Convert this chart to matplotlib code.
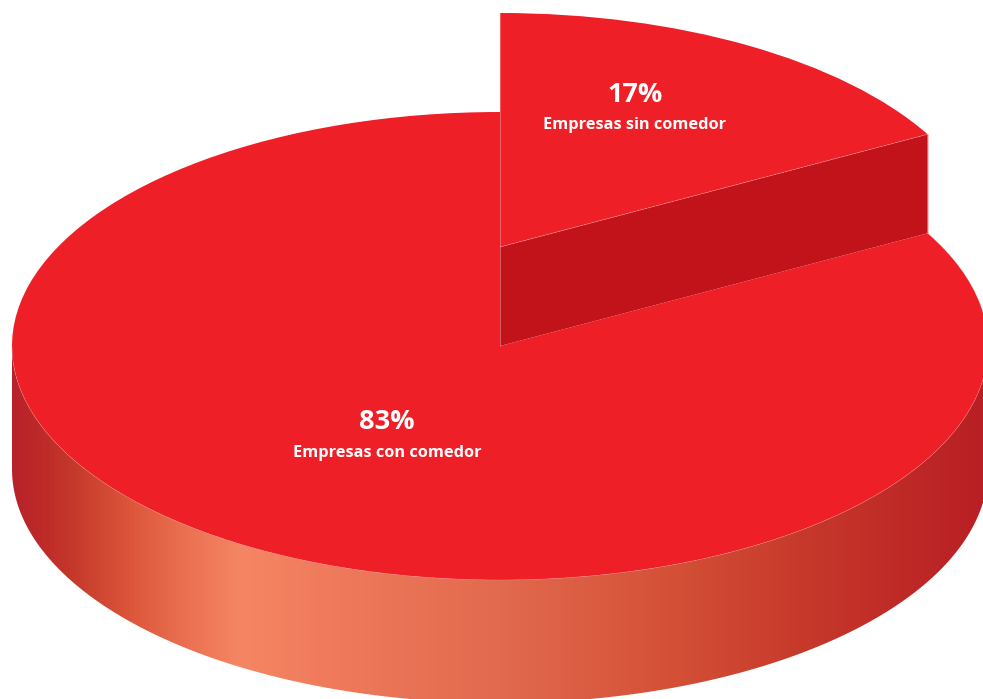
import numpy as np
import matplotlib
matplotlib.use("Agg")
import matplotlib.pyplot as plt
from matplotlib.colors import LinearSegmentedColormap
from matplotlib.patches import Polygon, Wedge

# Survey shares
categories = ["Empresas sin comedor", "Empresas con comedor"]
shares = [17, 83]

WIDTH, HEIGHT = 983, 699
CX, CY = 500, 346      # pie centre, pixels
RX, RY = 488, 234      # ellipse radii, pixels
DEPTH = 123 / RY       # thickness of the disc, in radii
LIFT = 99 / RY         # upward offset of the small slice, in radii

TOP = "#EE1F27"
CUT = "#C2131A"
RIM = "#F5A0A0"
WALL_STOPS = [
    (12, "#B8232A"), (40, "#BE2A28"), (75, "#C63A2C"), (125, "#DB5439"),
    (180, "#E96E50"), (240, "#F58663"), (330, "#EF7A5C"), (500, "#E26A4E"),
    (680, "#D34F36"), (800, "#C73A2B"), (900, "#BF2A27"), (988, "#B81F24"),
]

fig = plt.figure(figsize=(WIDTH / 100, HEIGHT / 100), dpi=100, facecolor="white")
ax = fig.add_axes([0, 0, 1, 1])

# Data units are pie radii, so the unit circle projects to the ellipse.
xlim = (-CX / RX, (WIDTH - CX) / RX)
ylim = ((CY - HEIGHT) / RY, CY / RY)

split = 90 - 360 * shares[0] / sum(shares)   # boundary angle between the two slices
sx, sy = np.cos(np.radians(split)), np.sin(np.radians(split))

# Front wall of the disc, shaded with a horizontal gradient
t = np.radians(np.linspace(180, 360, 400))
wall_xy = np.vstack([
    np.column_stack([np.cos(t), np.sin(t)]),
    np.column_stack([np.cos(t[::-1]), np.sin(t[::-1]) - DEPTH]),
])
wall = Polygon(wall_xy, closed=True, fc="none", ec="none")
ax.add_patch(wall)
stop_x = [(x - WALL_STOPS[0][0]) / (WALL_STOPS[-1][0] - WALL_STOPS[0][0]) for x, _ in WALL_STOPS]
cmap = LinearSegmentedColormap.from_list("wall", list(zip(stop_x, [c for _, c in WALL_STOPS])))
img = ax.imshow(
    np.linspace(0, 1, 1024)[None, :], cmap=cmap, aspect="auto", interpolation="bilinear",
    extent=[(WALL_STOPS[0][0] - CX) / RX, (WALL_STOPS[-1][0] - CX) / RX, -1 - DEPTH, 0.2],
)
img.set_clip_path(wall)

# Large slice
ax.add_patch(Wedge((0, 0), 1, 90, split + 360, fc=TOP, ec="none"))
t = np.radians(np.linspace(180, 360 + split, 400))
ax.plot(np.cos(t), np.sin(t), color=RIM, lw=0.4, alpha=0.45)

# Cut face exposed under the raised slice
ax.add_patch(Polygon([(0, 0), (0, LIFT), (sx, sy + LIFT), (sx, sy)], closed=True, fc=CUT, ec="none"))

# Raised small slice
ax.add_patch(Wedge((0, LIFT), 1, split, 90, fc=TOP, ec="none"))
ax.plot([0, sx], [LIFT, sy + LIFT], color=RIM, lw=0.5, alpha=0.7, ls=(0, (3, 1)))
ax.plot([0, 0], [0, 1 + LIFT], color=RIM, lw=0.6, alpha=0.6)
ax.plot([sx, sx], [sy, sy + LIFT], color=RIM, lw=0.6, alpha=0.7)

ax.set_xlim(*xlim)
ax.set_ylim(*ylim)
ax.axis("off")

# Value labels
FONT = "Open Sans"
def label(px, py, text, size):
    fig.text(px / WIDTH, 1 - py / HEIGHT, text, ha="center", va="center",
             color="white", fontsize=size, fontfamily=FONT, fontweight="bold")

label(635, 95, f"{shares[0]}%", 19.5)
label(634.5, 125, categories[0], 11.8)
label(387, 422, f"{shares[1]}%", 19.5)
label(387, 453, categories[1], 11.8)

fig.savefig("out.png", dpi=100, facecolor="white")
